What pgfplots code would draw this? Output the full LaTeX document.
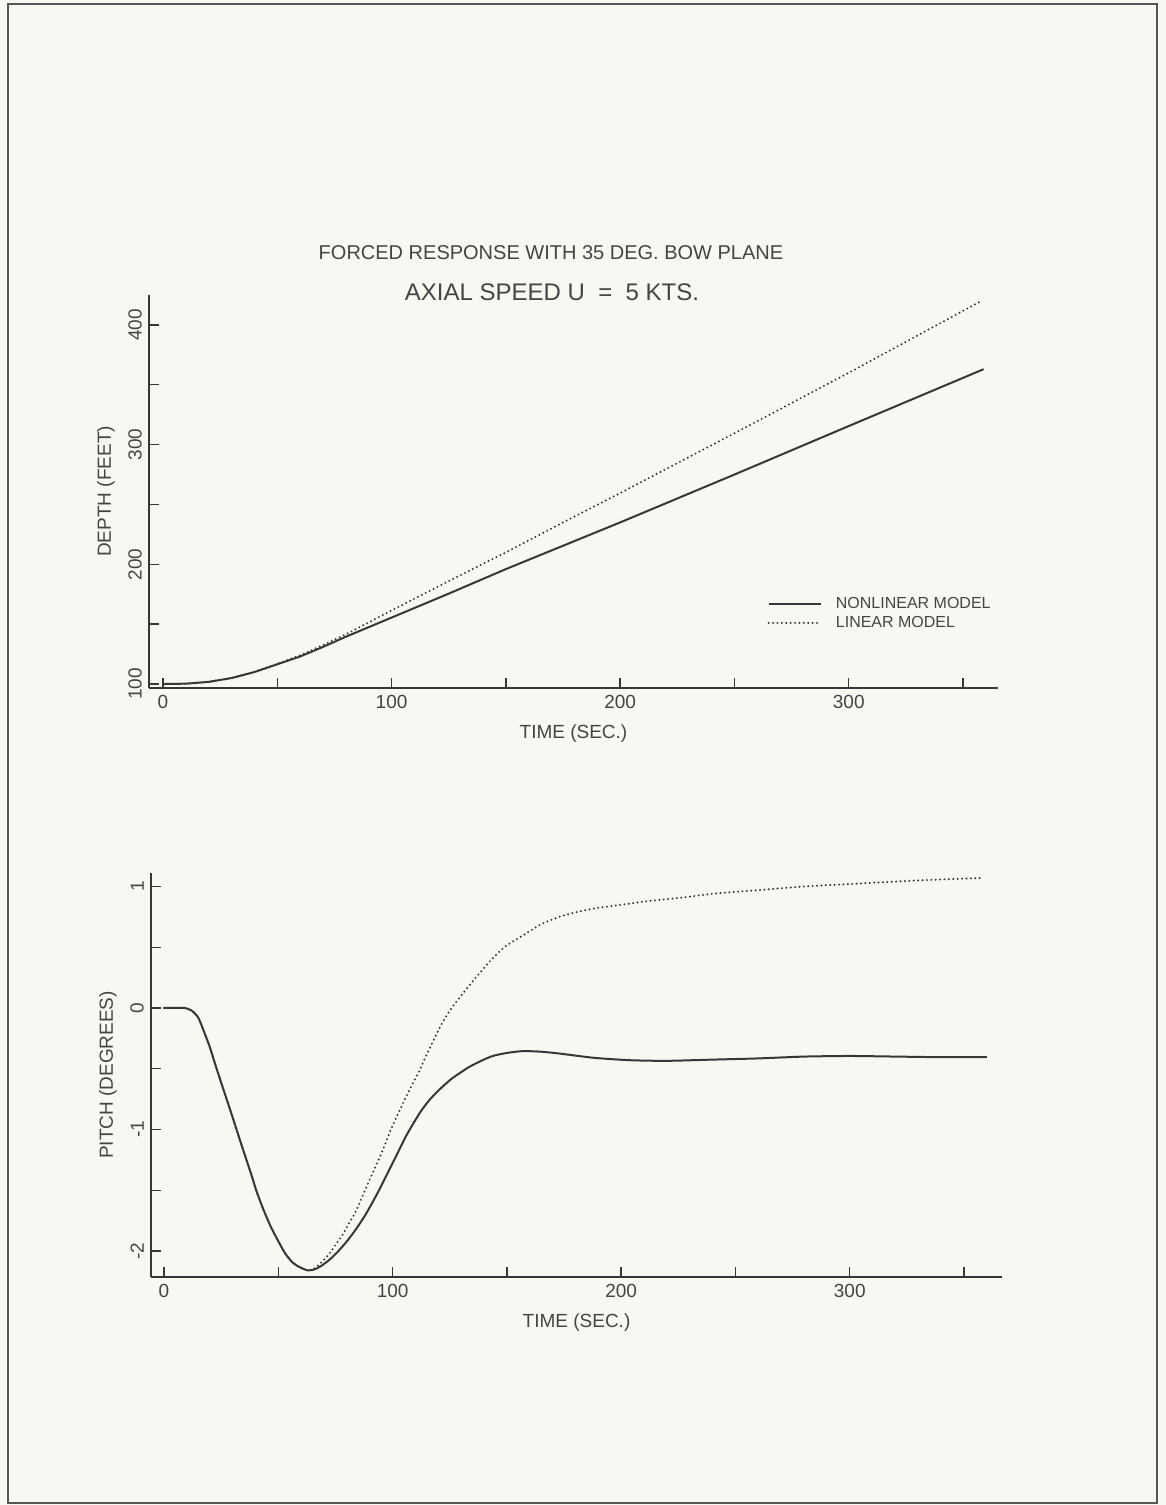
\documentclass[border=0pt]{standalone}
\usepackage{fontspec}
\setmainfont{Liberation Sans}
\usepackage{pgfplots}
\pgfplotsset{compat=1.18}
\definecolor{bg}{RGB}{248,248,242}
\definecolor{ink}{RGB}{55,55,55}
\definecolor{txt}{RGB}{68,68,68}

\pgfplotsset{
  mystyle/.style={
    scale only axis,
    axis x line=bottom, axis y line=left,
    axis line style={-, line width=1.3pt, ink},
    tick align=inside,
    major tick length=5pt,
    tick style={line width=0.7pt, ink},
    xtick={0,50,...,350},
    xticklabels={0,,100,,200,,300,},
    ticklabel style={font=\fontsize{9.5}{10}\selectfont, text=txt},
    yticklabel style={rotate=90, anchor=south},
    label style={font=\fontsize{9.5}{10}\selectfont, text=txt},
    xlabel={TIME (SEC.)},
  },
  solidc/.style={ink, line width=1pt, line join=round},
  dotc/.style={ink, line width=1.1pt, line cap=round, dash pattern=on 0pt off 2.2pt},
}

\begin{document}
\begin{tikzpicture}
\fill[bg] (0,0) rectangle (583pt,752.5pt);
\draw[ink!85, line width=1pt] (4pt,1pt) rectangle (578.5pt,750.5pt);

\node[text=txt, font=\fontsize{10}{12}\selectfont] at (275.5pt,626pt) {FORCED RESPONSE WITH 35 DEG. BOW PLANE};
\node[text=txt, font=\fontsize{12}{14}\selectfont] at (276pt,606.5pt) {AXIAL SPEED U\ \ =\ \ 5 KTS.};

% ---------- top: depth ----------
\begin{axis}[mystyle,
  at={(74.5pt,408.5pt)}, anchor=south west,
  width=424.5pt, height=196.5pt,
  xmin=-6.1, xmax=365.3,
  ymin=96.7, ymax=425,
  ytick={100,150,...,400},
  yticklabels={100,,200,,300,,400},
  ylabel={DEPTH (FEET)},
  ylabel style={at={(axis description cs:-0.0506,0.5)}, anchor=center},
  xlabel style={at={(axis description cs:0.5,-0.117)}, anchor=center},
  legend style={at={(axis description cs:0.721,0.247)}, anchor=north west,
    draw=none, fill=none, font=\fontsize{8}{9}\selectfont, text=txt,
    nodes={inner sep=0.6pt, text height=6pt, text depth=1pt},
    row sep=1.5pt,
    /tikz/every odd column/.append style={column sep=6.5pt}},
  legend cell align=left,
  legend image code/.code={\draw[#1] (0pt,0pt) -- (26pt,0pt);},
]
\addplot[solidc] coordinates {
(0,100) (10,100.3) (20,101.8) (30,105) (40,110) (50,116.5) (60,123) (70,131)
(80,139.5) (90,147.5) (100,155.5) (125,175.5) (150,196) (175,215.5) (200,235)
(250,275) (300,315.5) (359,363)};
\addlegendentry{NONLINEAR MODEL}
\addplot[dotc] coordinates {
(0,100) (10,100.3) (20,101.8) (30,105) (40,110.2) (50,116.8) (60,124) (70,132.5)
(80,141.5) (90,151.5) (100,161.5) (125,186) (150,210) (175,235) (200,259.5)
(250,309.5) (300,360) (357,419)};
\addlegendentry{LINEAR MODEL}
\end{axis}

% ---------- bottom: pitch ----------
\begin{axis}[mystyle,
  at={(75.5pt,114pt)}, anchor=south west,
  width=425.5pt, height=202pt,
  xmin=-5.7, xmax=366.6,
  ymin=-2.214, ymax=1.111,
  ytick={-2,-1.5,...,1},
  yticklabels={-2,,-1,,0,,1},
  ylabel={PITCH (DEGREES)},
  ylabel style={at={(axis description cs:-0.0505,0.5)}, anchor=center},
  xlabel style={at={(axis description cs:0.5,-0.114)}, anchor=center},
]
\addplot[solidc, smooth, tension=0.4] coordinates {
(0,0) (5,0) (9,0) (12,-0.02) (15,-0.08) (18,-0.22) (20,-0.32) (23,-0.50)
(26.5,-0.70) (30,-0.90) (34.3,-1.15) (38,-1.36) (40.5,-1.51) (43.5,-1.66)
(46.7,-1.80) (50,-1.92) (53,-2.02) (56,-2.09) (59,-2.13) (63,-2.16) (66,-2.15)
(69,-2.12) (72.5,-2.07) (76.3,-2.00) (80,-1.92) (84,-1.82) (88.5,-1.69)
(93.5,-1.52) (97,-1.39) (101,-1.24) (106,-1.05) (112,-0.86) (116,-0.76)
(120,-0.68) (126,-0.58) (134,-0.48) (143,-0.40) (150,-0.37) (157,-0.355)
(165,-0.36) (173,-0.375) (188,-0.41) (204,-0.43) (220,-0.435) (240,-0.425)
(260,-0.415) (280,-0.40) (300,-0.395) (320,-0.40) (340,-0.405) (360,-0.405)};
\addplot[dotc, smooth, tension=0.4] coordinates {
(0,0) (5,0) (9,0) (12,-0.02) (15,-0.08) (18,-0.22) (20,-0.32) (23,-0.50)
(26.5,-0.70) (30,-0.90) (34.3,-1.15) (38,-1.36) (40.5,-1.51) (43.5,-1.66)
(46.7,-1.80) (50,-1.92) (53,-2.02) (56,-2.09) (59,-2.13) (63,-2.16) (66,-2.14)
(69,-2.09) (72,-2.03) (75,-1.95) (78,-1.87) (81,-1.77) (84,-1.67) (87,-1.54)
(90.3,-1.40) (95,-1.20) (99.7,-0.98) (104.4,-0.79) (108,-0.65) (111.4,-0.53)
(114,-0.42) (116.8,-0.31) (121.5,-0.13) (126.2,0.01) (130.8,0.12) (135.5,0.23)
(143.3,0.40) (149.5,0.51) (157.3,0.60) (165,0.69) (172.9,0.75) (180.7,0.79)
(188.5,0.82) (196.3,0.84) (211.8,0.88) (227.4,0.91) (240,0.94) (260,0.97)
(280,1.00) (300,1.02) (330,1.05) (358,1.07)};
\end{axis}
\end{tikzpicture}
\end{document}
